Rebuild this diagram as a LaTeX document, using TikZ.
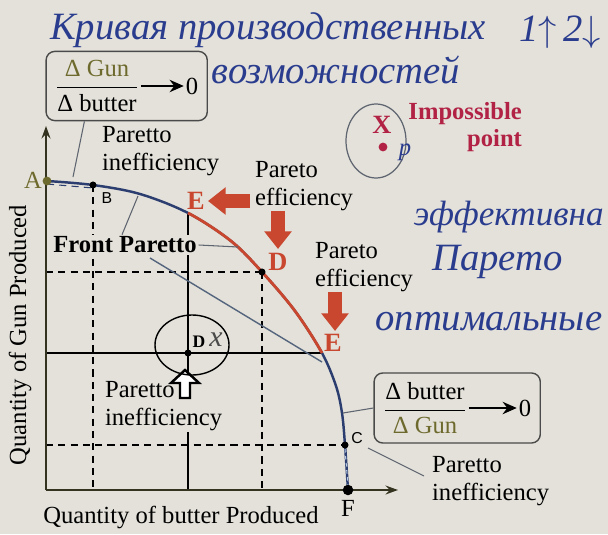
\documentclass[tikz,border=0pt]{standalone}
\usepackage{fontspec}
\setmainfont{Liberation Serif}
\setsansfont{Liberation Sans}
\usepackage{xcolor}
\definecolor{ppfNavy}{HTML}{2C3E70}
\definecolor{ppfRed}{HTML}{C8472E}
\definecolor{ppfCrimson}{HTML}{B22245}
\definecolor{ppfInk}{HTML}{2A3C8E}
\definecolor{ppfOlive}{HTML}{6E6A2E}
\definecolor{ppfAxis}{HTML}{33331F}
\definecolor{ppfPaper}{HTML}{E3E1D9}
\definecolor{ppfGrey}{HTML}{5E6470}
\definecolor{ppfSlope}{HTML}{55657E}
\definecolor{ppfPale}{HTML}{B9CBE4}
\definecolor{ppfBox}{HTML}{4A4A4A}
\usetikzlibrary{arrows.meta,calc,fit}

\begin{document}
\begin{tikzpicture}[x=0.02cm, y=-0.02cm, >={Stealth[length=7pt,width=5pt]},
  txt/.style={font=\fontsize{14}{15.5}\selectfont, align=left, fill=ppfPaper, inner sep=1pt},
  hand/.style={ppfInk, font=\fontsize{22}{24}\selectfont\itshape, inner sep=0pt},
  tag/.style={ppfRed, font=\fontsize{15}{17}\selectfont\bfseries, inner sep=1pt},
  minor/.style={font=\sffamily\fontsize{9}{10}\selectfont, inner sep=1pt},
  gridline/.style={line width=0.7pt, dash pattern=on 4pt off 3pt},
  rule/.style={line width=0.7pt},
  leader/.style={ppfGrey, line width=0.6pt},
  curve/.style={line width=1.4pt},
  dot/.style={circle, fill=black, inner sep=0pt, minimum size=4pt},
  fatarrow/.style={ppfRed, line width=7.5pt, -{Triangle[length=10pt, width=15pt]}},
  ratio/.style={font=\fontsize{14}{16}\selectfont, inner sep=1pt},
  ratiobox/.style={draw=ppfBox, line width=0.8pt, rounded corners=5pt, inner sep=4pt}]
  \useasboundingbox (0,0) rectangle (608,534);
  \fill[ppfPaper] (0,0) rectangle (608,534);

  % frontier points
  \coordinate (O) at (46,490);
  \coordinate (yTop) at (46,126);
  \coordinate (xEnd) at (398,490);
  \coordinate (A) at (47,181);
  \coordinate (B) at (93,185);
  \coordinate (E1) at (188,213);
  \coordinate (D) at (262,272);
  \coordinate (E2) at (322,353);
  \coordinate (C) at (345,445);
  \coordinate (F) at (348,490);
  \coordinate (Dx) at (188,353);
  \def\ppfCurve{plot[smooth, tension=0.55] coordinates {(A) (B) (140,194) (E1) (231,241) (D) (295,311) (E2) (336,386) (342,413) (C) (F)}}

  % guide lines
  \draw[gridline] (O |- D) -- (D);
  \draw[gridline] (D) -- (D |- O);
  \draw[gridline] (B) -- (B |- O);
  \draw[gridline] (O |- C) -- (C);
  \draw[rule] (O |- E2) -- (E2);
  \draw[rule] (E1) -- (E1 |- O);
  \coordinate (slopeStart) at (150,258);
  \coordinate (slopeEnd) at (322,362);
  \draw[ppfSlope, line width=0.8pt] (slopeStart) -- (slopeEnd);

  % axes
  \draw[->, ppfAxis, line width=1.3pt] (O) -- (yTop);
  \draw[->, ppfAxis, line width=1.3pt] (O) -- (xEnd);

  % the frontier, red between the two E
  \draw[ppfNavy, curve] \ppfCurve;
  \begin{scope}
    \clip (O) -- ($(O)!2!(E1)$) -- ($(O)!2!(E2)$) -- cycle;
    \draw[ppfRed, curve, line width=1.6pt] \ppfCurve;
  \end{scope}
  \draw[gridline, ppfNavy, line width=0.6pt] ($(A)+(0,3)$) -- ($(B)+(0,3)$);
  \draw[ppfPale, line width=0.6pt, dash pattern=on 2pt off 2pt] ($(C)+(0,4)$) -- ($(F)+(0,-4)$);

  % ratio boxes
  \node[ratio] (gunFrac) at (97,86) {$\displaystyle\frac{\textcolor{ppfOlive}{\mbox{Δ Gun}}}{\mbox{Δ butter}}$};
  \node[ratio] (gunZero) at (192,86) {0};
  \draw[-{Stealth[length=8pt,width=7pt]}, line width=1.4pt] (gunFrac.east) -- (gunZero.west);
  \node[ratiobox, fit=(gunFrac)(gunZero)] (gunBox) {};
  \node[ratio] (butterFrac) at (425,408) {$\displaystyle\frac{\mbox{Δ butter}}{\textcolor{ppfOlive}{\mbox{Δ Gun}}}$};
  \node[ratio] (butterZero) at (525,408) {0};
  \draw[-{Stealth[length=8pt,width=7pt]}, line width=1.4pt] (butterFrac.east) -- (butterZero.west);
  \node[ratiobox, fit=(butterFrac)(butterZero)] (butterBox) {};

  % texts
  \node[txt, anchor=west] (ineffA) at (100,151) {Paretto\\inefficiency};
  \node[txt, anchor=west] (effA) at (253,186) {Pareto\\efficiency};
  \node[txt, anchor=west] (effB) at (313,267) {Pareto\\efficiency};
  \node[txt, anchor=west] (ineffB) at (103,406) {Paretto\\inefficiency};
  \node[txt, anchor=west] (ineffC) at (430,481) {Paretto\\inefficiency};
  \node[txt, font=\fontsize{14}{16}\selectfont\bfseries] (front) at (125,245) {Front Paretto};
  \node[txt, text=ppfCrimson, font=\fontsize{14}{15.5}\selectfont\bfseries, align=right, anchor=east] (imposs) at (524,127) {Impossible\\point};
  \node[font=\fontsize{14}{16}\selectfont] (xLabel) at (181,517) {Quantity of butter Produced};
  \node[font=\fontsize{14}{16}\selectfont, rotate=90] (yLabel) at (20,335) {Quantity of Gun Produced};

  % leaders
  \coordinate (gunFoot) at (73,177);
  \coordinate (frontFootA) at (138,196);
  \coordinate (frontFootB) at (238,247);
  \coordinate (butterFoot) at (343,413);
  \coordinate (cFoot) at (368,448);
  \draw[leader] ($(gunBox.south west)!0.24!(gunBox.south east)$) -- (gunFoot);
  \draw[leader] ($(front.north)+(-3,0)$) -- (frontFootA);
  \draw[leader] (front.east) -- (frontFootB);
  \draw[leader] (butterBox.west) -- (butterFoot);
  \draw[leader] (cFoot) -- ($(ineffC.west)+(-6,-5)$);

  % point labels
  \node[ppfOlive, font=\fontsize{14}{16}\selectfont] (aLab) at (33,180) {A};
  \node[minor] (bLab) at (107,198) {B};
  \node[minor] (cLab) at (357,438) {C};
  \node[font=\fontsize{14}{16}\selectfont] (fLab) at (348,508) {F};
  \node[tag] (e1Lab) at (196,201) {E};
  \node[tag] (dLab) at (278,262) {D};
  \node[tag] (e2Lab) at (333,343) {E};
  \foreach \p in {B, D, Dx, C} {
    \node[dot] at (\p) {};
  }
  \node[dot, fill=ppfOlive, minimum size=5pt] at (A) {};
  \node[dot, minimum size=6pt] at (F) {};

  % moves along the frontier
  \coordinate (leftTail) at (250,201);
  \coordinate (leftHead) at (208,201);
  \coordinate (downTailA) at (278,211);
  \coordinate (downHeadA) at (278,249);
  \coordinate (downTailB) at (335,292);
  \coordinate (downHeadB) at (335,331);
  \draw[fatarrow] (leftTail) -- (leftHead);
  \draw[fatarrow] (downTailA) -- (downHeadA);
  \draw[fatarrow] (downTailB) -- (downHeadB);
  \coordinate (upTip) at (185,370);
  \draw[line width=1.4pt, fill=white, line join=miter] (upTip) -- ++(14,13) -- ++(-9,0) -- ++(0,15) -- ++(-10,0) -- ++(0,-15) -- ++(-9,0) -- cycle;

  % impossible point and the inner point
  \draw[ppfGrey, line width=0.7pt] (376,141) ellipse [x radius=30, y radius=37];
  \node[ppfCrimson, font=\fontsize{15}{17}\selectfont\bfseries] (xLab) at (382,125) {X};
  \node[dot, fill=ppfCrimson, minimum size=5pt] (xDot) at (383,147) {};
  \node[hand, font=\fontsize{14}{16}\selectfont\itshape] (xNote) at (405,152) {р};
  \draw[line width=0.8pt] (192,345) ellipse [x radius=37, y radius=30];
  \node[font=\fontsize{10}{12}\selectfont\bfseries] (dxLab) at (199,342) {D};
  \node[hand, ppfBox, font=\fontsize{17}{18}\selectfont\itshape] (dxMark) at (216,340) {x};

  % handwriting
  \node[hand] (titleA) at (268,30) {Кривая производственных};
  \node[hand] (titleB) at (336,70) {возможностей};
  \node[hand] (arrowsNote) at (560,32) {1$\uparrow$\,2$\downarrow$};
  \node[hand, font=\fontsize{20}{22}\selectfont\itshape, anchor=east] (noteA) at (604,217) {эффективна};
  \node[hand, anchor=west] (noteB) at (432,262) {Парето};
  \node[hand, anchor=west] (noteC) at (375,322) {оптимальные};
\end{tikzpicture}
\end{document}
